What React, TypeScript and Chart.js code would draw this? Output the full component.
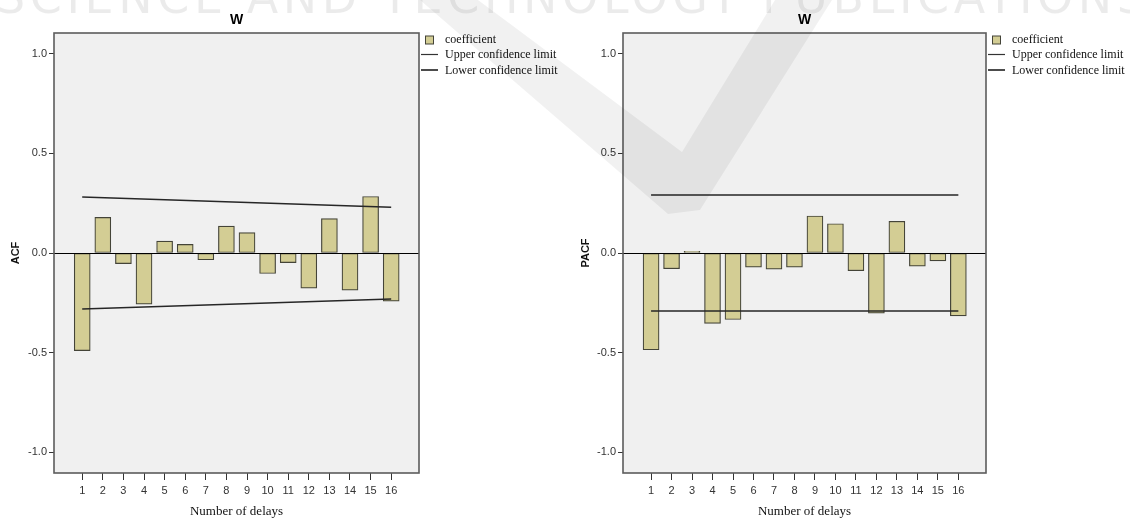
import React, { useEffect, useRef } from "react";
import { Chart, registerables } from "chart.js";

Chart.register(...registerables);

// Lags shown on the horizontal axis
const LAGS = [1, 2, 3, 4, 5, 6, 7, 8, 9, 10, 11, 12, 13, 14, 15, 16];
const LAG_LABELS = ["1", "2", "3", "4", "5", "6", "7", "8", "9", "10", "11", "12", "13", "14", "15", "16"];

// Autocorrelation coefficients
const ACF_VALUES = [-0.49, 0.179, -0.053, -0.257, 0.06, 0.043, -0.034, 0.135, 0.102, -0.103, -0.048, -0.177, 0.173, -0.187, 0.284, -0.242];
// Partial autocorrelation coefficients
const PACF_VALUES = [-0.486, -0.079, 0.008, -0.354, -0.334, -0.071, -0.081, -0.071, 0.186, 0.147, -0.089, -0.302, 0.159, -0.066, -0.04, -0.316];

// Confidence limits, given at the first and last lag
const LIMIT_LAGS = [1, 16];
const ACF_UPPER = [0.281, 0.23];
const ACF_LOWER = [-0.281, -0.231];
const PACF_UPPER = [0.291, 0.291];
const PACF_LOWER = [-0.291, -0.291];

const Y_TICKS = [-1, -0.5, 0, 0.5, 1];
const LEGEND_LABELS = ["coefficient", "Upper confidence limit", "Lower confidence limit"];
const PANEL_TITLE = "W";
const X_TITLE = "Number of delays";

const SANS = "'Liberation Sans', Arial, sans-serif";
const SERIF = "'Liberation Serif', 'Times New Roman', serif";
const BAR_FILL = "#d3cd94";
const BAR_EDGE = "#444438";
const LIMIT_COLOR = "#262626";

type PanelProps = {
  values: number[];
  upper: number[];
  lower: number[];
  yTitle: string;
  axisWidth: number;
  padRight: number;
  titlePad: number;
  left: number;
};

function Panel({ values, upper, lower, yTitle, axisWidth, padRight, titlePad, left }: PanelProps) {
  const ref = useRef<HTMLCanvasElement | null>(null);

  useEffect(() => {
    if (!ref.current) return;

    const framePlugin = {
      id: "panelFrame",
      beforeDraw(chart: any) {
        const { ctx, chartArea: a } = chart;
        ctx.save();
        ctx.fillStyle = "#f0f0f0";
        ctx.fillRect(a.left, a.top, a.right - a.left, a.bottom - a.top);
        ctx.restore();
      },
      afterDatasetsDraw(chart: any) {
        const { ctx, chartArea: a, scales } = chart;
        const y0 = Math.round(scales.y.getPixelForValue(0)) + 0.5;
        ctx.save();
        ctx.strokeStyle = "#000";
        ctx.lineWidth = 1;
        ctx.beginPath();
        ctx.moveTo(a.left, y0);
        ctx.lineTo(a.right, y0);
        ctx.stroke();
        ctx.restore();
      },
      afterDraw(chart: any) {
        const { ctx, chartArea: a } = chart;
        ctx.save();
        // plot frame
        ctx.strokeStyle = "#5c5c5c";
        ctx.lineWidth = 1.6;
        ctx.strokeRect(a.left, a.top, a.right - a.left, a.bottom - a.top);

        // panel title
        ctx.fillStyle = "#000";
        ctx.font = `bold 14px ${SANS}`;
        ctx.textAlign = "center";
        ctx.textBaseline = "middle";
        ctx.fillText(PANEL_TITLE, (a.left + a.right) / 2, 20);

        // legend
        const R = a.right;
        ctx.fillStyle = BAR_FILL;
        ctx.fillRect(R + 6.5, 36, 8, 8);
        ctx.strokeStyle = BAR_EDGE;
        ctx.lineWidth = 1;
        ctx.strokeRect(R + 6.5, 36, 8, 8);

        ctx.strokeStyle = "#333";
        ctx.lineWidth = 1.2;
        ctx.beginPath();
        ctx.moveTo(R + 2, 54.5);
        ctx.lineTo(R + 19, 54.5);
        ctx.stroke();
        ctx.strokeStyle = "#111";
        ctx.lineWidth = 1.5;
        ctx.beginPath();
        ctx.moveTo(R + 2, 70);
        ctx.lineTo(R + 19, 70);
        ctx.stroke();

        ctx.fillStyle = "#111";
        ctx.font = `12px ${SERIF}`;
        ctx.textAlign = "left";
        ctx.textBaseline = "middle";
        ctx.fillText(LEGEND_LABELS[0], R + 26, 40);
        ctx.fillText(LEGEND_LABELS[1], R + 26, 55);
        ctx.fillText(LEGEND_LABELS[2], R + 26, 70.5);
        ctx.restore();
      },
    };

    const chart = new Chart(ref.current, {
      type: "bar",
      data: {
        datasets: [
          {
            type: "line",
            label: LEGEND_LABELS[1],
            data: LIMIT_LAGS.map((x, i) => ({ x, y: upper[i] })),
            borderColor: LIMIT_COLOR,
            borderWidth: 1.5,
            pointRadius: 0,
            fill: false,
            order: 0,
          },
          {
            type: "line",
            label: LEGEND_LABELS[2],
            data: LIMIT_LAGS.map((x, i) => ({ x, y: lower[i] })),
            borderColor: LIMIT_COLOR,
            borderWidth: 1.5,
            pointRadius: 0,
            fill: false,
            order: 0,
          },
          {
            type: "bar",
            label: LEGEND_LABELS[0],
            data: LAGS.map((x, i) => ({ x, y: values[i] })),
            backgroundColor: BAR_FILL,
            borderColor: BAR_EDGE,
            borderWidth: 1.2,
            borderSkipped: false,
            barThickness: 16,
            order: 1,
          },
        ],
      } as any,
      options: {
        animation: false,
        responsive: false,
        maintainAspectRatio: false,
        layout: { padding: { left: 0, top: 33, right: padRight, bottom: 0 } },
        plugins: {
          legend: { display: false },
          tooltip: { enabled: false },
          title: { display: false },
        },
        scales: {
          x: {
            type: "linear",
            min: -0.37,
            max: 17.35,
            offset: false,
            afterBuildTicks: (s: any) => {
              s.ticks = LAGS.map((v) => ({ value: v }));
            },
            afterFit: (s: any) => {
              s.height = 48;
            },
            ticks: {
              callback: (_v: any, i: number) => LAG_LABELS[i],
              font: { family: SANS, size: 11 },
              color: "#333",
              padding: 4,
              maxRotation: 0,
              autoSkip: false,
            },
            grid: { drawOnChartArea: false, offset: false, tickLength: 7, color: "#333", lineWidth: 1 },
            border: { display: false },
            title: {
              display: true,
              text: X_TITLE,
              font: { family: SERIF, size: 13 },
              color: "#111",
              padding: { top: 0, bottom: 2 },
            },
          },
          y: {
            type: "linear",
            min: -1.105,
            max: 1.105,
            afterBuildTicks: (s: any) => {
              s.ticks = Y_TICKS.map((v) => ({ value: v }));
            },
            afterFit: (s: any) => {
              s.width = axisWidth;
            },
            ticks: {
              callback: (v: any) => Number(v).toFixed(1),
              font: { family: SANS, size: 11 },
              color: "#333",
              padding: 2,
            },
            grid: { drawOnChartArea: false, tickLength: 5, color: "#333", lineWidth: 1 },
            border: { display: false },
            title: {
              display: true,
              text: yTitle,
              font: { family: SANS, size: 11, weight: "bold" },
              color: "#111",
              padding: { top: titlePad, bottom: 0 },
            },
          },
        },
      } as any,
      plugins: [framePlugin],
    });

    return () => chart.destroy();
  }, [values, upper, lower, yTitle, axisWidth, padRight, titlePad]);

  return (
    <canvas
      ref={ref}
      width={565}
      height={521}
      style={{ position: "absolute", left, top: 0, width: 565, height: 521 }}
    />
  );
}

export default function App() {
  return (
    <div style={{ position: "absolute", left: 0, top: 0, width: 1130, height: 521, background: "#fff", overflow: "hidden" }}>
      <Panel values={ACF_VALUES} upper={ACF_UPPER} lower={ACF_LOWER} yTitle="ACF" axisWidth={54} padRight={146} titlePad={9} left={0} />
      <Panel values={PACF_VALUES} upper={PACF_UPPER} lower={PACF_LOWER} yTitle="PACF" axisWidth={58} padRight={144} titlePad={14} left={565} />
      <svg
        width={1130}
        height={521}
        style={{ position: "absolute", left: 0, top: 0, pointerEvents: "none" }}
      >
        <text
          x={-4}
          y={13}
          fontSize={46}
          fontFamily="'DejaVu Sans', sans-serif"
          fill="rgba(0,0,0,0.08)"
          textLength={1150}
          lengthAdjust="spacing"
        >
          SCIENCE AND TECHNOLOGY PUBLICATIONS
        </text>
        <polygon
          points="420,0 478,0 682,152 775,0 832,0 700,210 668,214"
          fill="rgba(0,0,0,0.055)"
        />
      </svg>
    </div>
  );
}
